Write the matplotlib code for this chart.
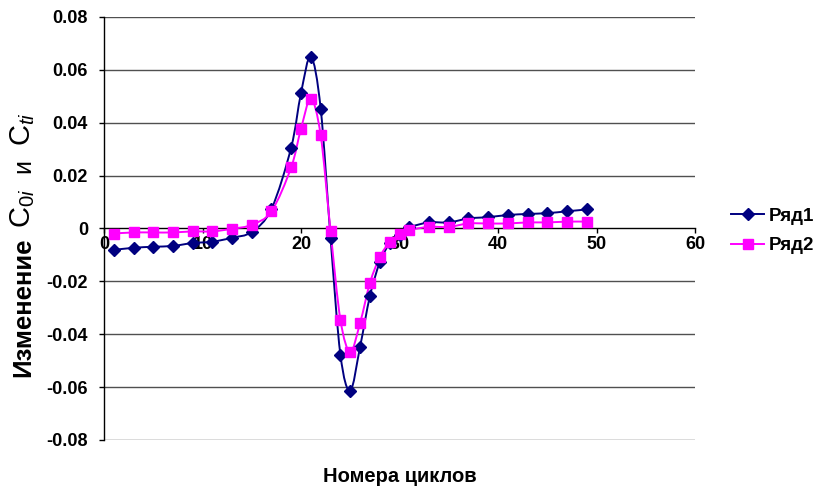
import matplotlib
matplotlib.use("Agg")
import matplotlib.pyplot as plt
import numpy as np
from matplotlib.path import Path
from matplotlib.patches import PathPatch
from matplotlib.lines import Line2D

# Cycle numbers
cycles = [1, 3, 5, 7, 9, 11, 13, 15, 17, 19, 20, 21, 22, 23, 24, 25, 26, 27, 28,
          29, 30, 31, 33, 35, 37, 39, 41, 43, 45, 47, 49]

# Ряд1 (C0i change)
series1 = [-0.0081, -0.0073, -0.0069, -0.0066, -0.0055, -0.0050, -0.0035, -0.0013,
           0.0074, 0.0306, 0.0512, 0.0650, 0.0453, -0.0036, -0.0477, -0.0613,
           -0.0447, -0.0255, -0.0128, -0.0056, -0.0024, 0.0004, 0.0023, 0.0023,
           0.0038, 0.0043, 0.0051, 0.0055, 0.0058, 0.0065, 0.0072]

# Ряд2 (Cti change)
series2 = [-0.0019, -0.0015, -0.0015, -0.0015, -0.0011, -0.0011, -0.0001, 0.0014,
           0.0065, 0.0231, 0.0377, 0.0490, 0.0352, -0.0010, -0.0345, -0.0466,
           -0.0357, -0.0206, -0.0108, -0.0052, -0.0021, -0.0006, 0.0006, 0.0006,
           0.0019, 0.0019, 0.0019, 0.0023, 0.0023, 0.0026, 0.0026]

series_names = ["Ряд1", "Ряд2"]
x_ticks = [0, 10, 20, 30, 40, 50, 60]
y_ticks = [-0.08, -0.06, -0.04, -0.02, 0, 0.02, 0.04, 0.06, 0.08]
y_tick_labels = ["-0.08", "-0.06", "-0.04", "-0.02", "0", "0.02", "0.04", "0.06", "0.08"]

NAVY = "#000080"
MAGENTA = "#FF00FF"

plt.rcParams["font.family"] = ["Liberation Sans", "DejaVu Sans"]
plt.rcParams["mathtext.fontset"] = "custom"
plt.rcParams["mathtext.rm"] = "Liberation Sans"
plt.rcParams["mathtext.it"] = "Liberation Sans:italic"
plt.rcParams["mathtext.bf"] = "Liberation Sans:bold"


def smooth_path(xs, ys):
    """Catmull-Rom style Bezier curve through all points."""
    pts = np.column_stack([xs, ys]).astype(float)
    n = len(pts)
    verts = [pts[0]]
    codes = [Path.MOVETO]
    for i in range(n - 1):
        p0 = pts[i - 1] if i > 0 else pts[i]
        p1 = pts[i]
        p2 = pts[i + 1]
        p3 = pts[i + 2] if i + 2 < n else pts[i + 1]
        c1 = p1 + (p2 - p0) / 6.0
        c2 = p2 - (p3 - p1) / 6.0
        verts.extend([c1, c2, p2])
        codes.extend([Path.CURVE4] * 3)
    return Path(verts, codes)


fig = plt.figure(figsize=(8.21, 4.90), dpi=100)
ax = fig.add_axes([104 / 821, 1 - 440 / 490, 591 / 821, 423 / 490])

ax.set_xlim(0, 60)
ax.set_ylim(-0.08, 0.08)

# horizontal gridlines
for yv in y_ticks:
    if yv != 0:
        ax.axhline(yv, color="#505050", lw=1.0, zorder=1)

styles = [(series1, NAVY, "D", 6.5), (series2, MAGENTA, "s", 7)]
for vals, col, mk, ms in styles:
    ax.add_patch(PathPatch(smooth_path(cycles, vals), facecolor="none",
                           edgecolor=col, lw=1.4, zorder=3))
    ax.plot(cycles, vals, linestyle="none", marker=mk, markersize=ms,
            color=col, markeredgecolor=col, zorder=4)

# axes lines
for s in ["top", "right"]:
    ax.spines[s].set_visible(False)
ax.spines["bottom"].set_position(("data", 0))
ax.spines["bottom"].set_color("black")
ax.spines["left"].set_color("black")
ax.spines["bottom"].set_linewidth(1.0)
ax.spines["left"].set_linewidth(1.0)

ax.set_xticks(x_ticks)
ax.set_xticklabels([str(v) for v in x_ticks], fontsize=13, fontweight="bold")
ax.set_yticks(y_ticks)
ax.set_yticklabels(y_tick_labels, fontsize=13, fontweight="bold")
ax.tick_params(axis="both", direction="out", length=3.6, width=1, color="black")
ax.tick_params(axis="x", pad=2)
ax.tick_params(axis="y", pad=8)

# x-axis title
fig.text(399.5 / 821, 1 - 476 / 490, "Номера циклов", fontsize=14.5,
         fontweight="bold", ha="center", va="center")

# y-axis title assembled from pieces, rotated and stacked bottom to top
pieces = [
    ("Изменение", dict(fontsize=18.5, fontweight="bold"), 377),
    (r"$\mathrm{C}_{\mathit{0i}}$", dict(fontsize=21), 228),
    ("и", dict(fontsize=18), 173),
    (r"$\mathrm{C}_{\mathit{ti}}$", dict(fontsize=21), 146),
]
x_base = 30 / 821
for txt, kw, y_pix in pieces:
    fig.text(x_base, 1 - y_pix / 490, txt, rotation=90,
             rotation_mode="anchor", ha="left", va="baseline", **kw)

# legend
handles = [
    Line2D([], [], color=NAVY, lw=1.4, marker="D", markersize=6.5),
    Line2D([], [], color=MAGENTA, lw=1.4, marker="s", markersize=7),
]
leg = fig.legend(handles, series_names, loc="center left",
                 bbox_to_anchor=(722 / 821, 1 - 231 / 490), frameon=False,
                 prop={"size": 13.5, "weight": "bold"}, handlelength=1.75,
                 handletextpad=0.25, labelspacing=0.65, borderpad=0)

fig.savefig("out.png", dpi=100)
